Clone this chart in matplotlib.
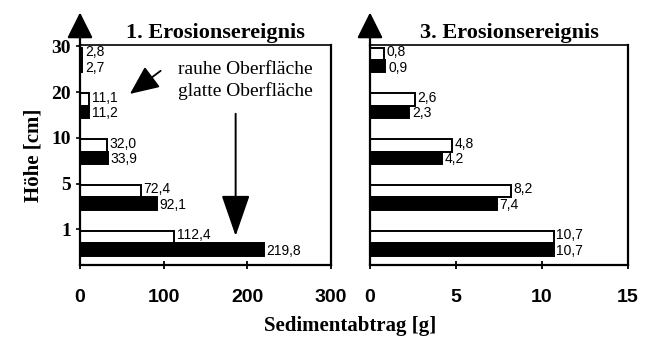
import matplotlib.pyplot as plt

heights = ['30', '20', '10', '5', '1']
rauh_1 = [2.8, 11.1, 32.0, 72.4, 112.4]
glatt_1 = [2.7, 11.2, 33.9, 92.1, 219.8]
rauh_3 = [0.8, 2.6, 4.8, 8.2, 10.7]
glatt_3 = [0.9, 2.3, 4.2, 7.4, 10.7]

serif = 'Liberation Serif'
sans = 'Liberation Sans'

fig = plt.figure(figsize=(6.52, 3.43), dpi=100)
ax1 = fig.add_axes([0.1227, 0.227, 0.385, 0.642])
ax2 = fig.add_axes([0.5675, 0.227, 0.395, 0.642])

pos = [4, 3, 2, 1, 0]
bh = 0.27


def panel(ax, rauh, glatt, xmax, step, title, dx):
    y_w = [p + bh / 2 for p in pos]
    y_b = [p - bh / 2 for p in pos]
    ax.barh(y_w, rauh, height=bh, color='white', edgecolor='black', lw=1.4)
    ax.barh(y_b, glatt, height=bh, color='black', edgecolor='black', lw=1.4)
    for yw, yb, r, g in zip(y_w, y_b, rauh, glatt):
        ax.text(r + dx, yw + 0.04, f'{r:.1f}'.replace('.', ','), fontsize=10,
                family=sans, va='center', ha='left')
        ax.text(g + dx, yb - 0.03, f'{g:.1f}'.replace('.', ','), fontsize=10,
                family=sans, va='center', ha='left')
    ax.set_xlim(0, xmax)
    ax.set_ylim(-0.48, 4.33)
    ax.set_xticks(range(0, xmax + 1, step))
    ax.tick_params(axis='x', direction='inout', length=6, width=1.3, pad=14)
    for t in ax.get_xticklabels():
        t.set_fontfamily(sans)
        t.set_fontweight('bold')
        t.set_fontsize(14)
    for s in ax.spines.values():
        s.set_linewidth(1.6)
    ax.spines['top'].set_linewidth(1.2)
    ax.set_title(title, family=serif, fontweight='bold', fontsize=16, pad=5,
                 x=0.54)
    # upward arrow on the y axis
    ax.annotate('', xy=(0, 1.16), xytext=(0, 0.98), xycoords='axes fraction',
                arrowprops=dict(arrowstyle='-|>,head_length=1.6,head_width=0.8',
                                color='black', lw=1.6), annotation_clip=False)


panel(ax1, rauh_1, glatt_1, 300, 100, '1. Erosionsereignis', 3)
panel(ax2, rauh_3, glatt_3, 15, 5, '3. Erosionsereignis', 0.15)

ax1.set_yticks([p + 0.3 for p in pos])
ax1.set_yticklabels(heights, family=serif, fontweight='bold', fontsize=14)
ax1.tick_params(axis='y', length=3, width=1.2)
ax2.set_yticks([])

ax1.set_ylabel('Höhe [cm]', family=serif, fontweight='bold', fontsize=15,
               labelpad=6)
fig.text(0.537, 0.035, 'Sedimentabtrag [g]', family=serif, fontweight='bold',
         fontsize=15, ha='center')

ax1.text(0.66, 0.89, 'rauhe Oberfläche', transform=ax1.transAxes,
         family=serif, fontsize=14, ha='center', va='center')
ax1.text(0.66, 0.79, 'glatte Oberfläche', transform=ax1.transAxes,
         family=serif, fontsize=14, ha='center', va='center')
ax1.annotate('', xy=(0.19, 0.77), xytext=(0.33, 0.89),
             xycoords='axes fraction',
             arrowprops=dict(arrowstyle='-|>,head_length=1.8,head_width=0.8',
                             color='black', lw=1.3))
ax1.annotate('', xy=(0.62, 0.12), xytext=(0.62, 0.70),
             xycoords='axes fraction',
             arrowprops=dict(arrowstyle='-|>,head_length=2.6,head_width=0.9',
                             color='black', lw=1.4))

fig.savefig('out.png', dpi=100)
